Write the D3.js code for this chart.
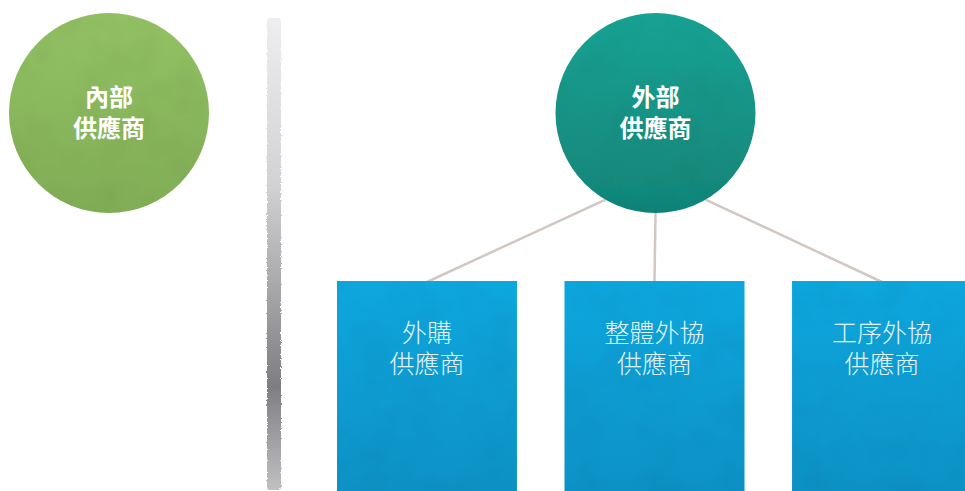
<!DOCTYPE html>
<html><head><meta charset="utf-8">
<script src="https://cdn.jsdelivr.net/npm/d3@7"></script>
<style>
html,body{margin:0;padding:0;background:#fff;}
svg{display:block;}
</style></head>
<body>
<script>
// ---- data ----
const leftLabel = ["內部", "供應商"];
const rootLabel = ["外部", "供應商"];
const childLabels = [
  ["外購", "供應商"],
  ["整體外協", "供應商"],
  ["工序外協", "供應商"]
];
const childIds = ["purchase", "whole", "process"];

// ---- layout ----
const W = 965, H = 491;
const svg = d3.select("body").append("svg").attr("width", W).attr("height", H);
const defs = svg.append("defs");

function vgrad(id, stops) {
  const g = defs.append("linearGradient").attr("id", id)
    .attr("x1", 0).attr("y1", 0).attr("x2", 0).attr("y2", 1);
  stops.forEach(s => g.append("stop").attr("offset", s[0]).attr("stop-color", s[1]));
}
vgrad("gGreen", [[0, "#93c163"], [1, "#80ad56"]]);
vgrad("gTeal", [[0, "#17a394"], [1, "#118477"]]);
vgrad("gBlue", [[0, "#0aa7de"], [1, "#0891c5"]]);
vgrad("gBar", [[0, "#eeeef0"], [0.35, "#d2d2d5"], [0.58, "#a6a6a9"], [0.78, "#7e7e82"], [1, "#c0c0c3"]]);

// texture filter
const tf = defs.append("filter").attr("id", "tex").attr("x", 0).attr("y", 0).attr("width", 1).attr("height", 1);
tf.append("feTurbulence").attr("type", "fractalNoise").attr("baseFrequency", 0.025).attr("numOctaves", 3).attr("seed", 4).attr("result", "n");
tf.append("feColorMatrix").attr("in", "n").attr("type", "matrix")
  .attr("values", "0 0 0 0 0  0 0 0 0 0  0 0 0 0 0  0 0 0 0.9 -0.35").attr("result", "a");
tf.append("feComposite").attr("in", "a").attr("in2", "SourceGraphic").attr("operator", "in").attr("result", "dark");
tf.append("feComponentTransfer").attr("in", "dark").attr("result", "dark2")
  .append("feFuncA").attr("type", "linear").attr("slope", 0.18);
tf.append("feMerge").selectAll("feMergeNode").data(["SourceGraphic", "dark2"]).join("feMergeNode").attr("in", d => d);

// rough edge filter for bar
const rf = defs.append("filter").attr("id", "rough").attr("x", -0.5).attr("y", -0.05).attr("width", 2).attr("height", 1.1);
rf.append("feTurbulence").attr("type", "fractalNoise").attr("baseFrequency", 0.6).attr("numOctaves", 2).attr("seed", 2).attr("result", "t");
rf.append("feDisplacementMap").attr("in", "SourceGraphic").attr("in2", "t").attr("scale", 3);

const R = 100;
const cy = 113;
const leftX = 109, rootX = 655.5;

// boxes via band scale
const xBand = d3.scaleBand().domain(childIds).range([337, 972]).paddingInner(0.209);
const boxTop = 281;

// connectors (drawn first, behind circle)
const angle = d3.scaleLinear().domain([0, childIds.length - 1]).range([120, 60]);
svg.append("g").selectAll("line").data(childIds).join("line")
  .attr("x1", (d, i) => rootX + R * Math.cos(angle(i) * Math.PI / 180))
  .attr("y1", (d, i) => cy + R * Math.sin(angle(i) * Math.PI / 180))
  .attr("x2", d => xBand(d) + xBand.bandwidth() / 2)
  .attr("y2", boxTop + 1)
  .attr("stroke", "#d3c7c2").attr("stroke-width", 2.5);

// circles
const circles = [
  {x: leftX, fill: "url(#gGreen)", label: leftLabel},
  {x: rootX, fill: "url(#gTeal)", label: rootLabel}
];
const cg = svg.append("g").selectAll("g").data(circles).join("g");
cg.append("circle").attr("cx", d => d.x).attr("cy", cy).attr("r", R)
  .attr("fill", d => d.fill).attr("filter", "url(#tex)");
cg.each(function (d) {
  const g = d3.select(this);
  d.label.forEach((s, i) => g.append("text")
    .attr("text-anchor", "middle")
    .attr("font-family", "'Noto Sans CJK TC','Noto Sans CJK SC',sans-serif")
    .attr("font-weight", 700).attr("font-size", 24).attr("fill", "#fff")
    .attr("x", d.x).attr("y", 106 + i * 31).text(s));
});

// vertical bar
svg.append("rect").attr("x", 267).attr("y", 18).attr("width", 14).attr("height", 472)
  .attr("rx", 3).attr("fill", "url(#gBar)").attr("filter", "url(#rough)");

// boxes
const bg = svg.append("g").selectAll("g").data(childIds).join("g");
bg.append("rect").attr("x", d => xBand(d)).attr("y", boxTop)
  .attr("width", xBand.bandwidth()).attr("height", H - boxTop + 5)
  .attr("fill", "url(#gBlue)").attr("filter", "url(#tex)");
bg.each(function (d, k) {
  const cx = xBand(d) + xBand.bandwidth() / 2;
  const g = d3.select(this);
  childLabels[k].forEach((s, i) => g.append("text")
    .attr("text-anchor", "middle")
    .attr("font-family", "'Noto Sans CJK TC','Noto Sans CJK SC',sans-serif")
    .attr("font-weight", 300).attr("font-size", 25).attr("fill", "#e4f5fc")
    .attr("x", cx).attr("y", 342 + i * 31).text(s));
});
</script>
</body></html>
